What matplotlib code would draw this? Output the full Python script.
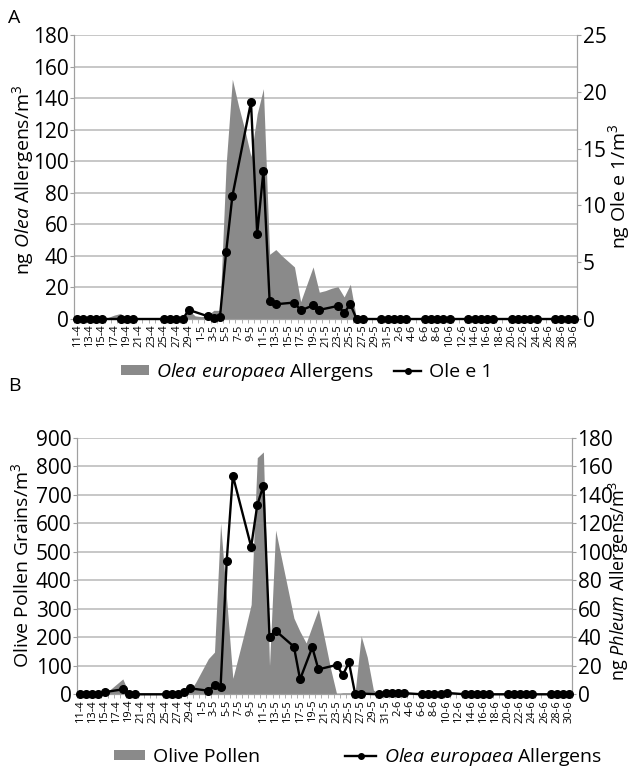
import numpy as np
import pandas as pd
import matplotlib
matplotlib.use('Agg')
import matplotlib.pyplot as plt
from matplotlib.lines import Line2D
from matplotlib.patches import Patch

plt.rcParams['font.family'] = ['Open Sans', 'DejaVu Sans']
plt.rcParams['mathtext.fontset'] = 'custom'
plt.rcParams['mathtext.rm'] = 'Open Sans'
plt.rcParams['mathtext.it'] = 'Open Sans:italic'

nan = np.nan

# days 11-4 .. 30-6
days = pd.date_range('2000-04-11', '2000-06-30')
day_labels = [f"{d.day}-{d.month}" for d in days]

# panel A: Olea europaea allergens (left axis, ng/m3)
olea_area_a = [0, 0, 0, 0, 0, 1, 2.5, 3.5, 0, 0,
               0, 0, 0, 0, 0, 0, 0, 0, 5.5, 2,
               1.5, 2, 5.5, 5.5, 98, 152, 135, 120, 103, 130,
               146, 41, 44, 40, 36.5, 33, 11, 22, 33, 17,
               18, 19.5, 20.5, 14, 22] + [0] * 36

# panel A: Ole e 1 (right axis, ng/m3)
ole_e1 = [0, 0, 0, 0, 0, nan, nan, 0, 0, 0,
          nan, nan, nan, nan, 0, 0, 0, 0, 0.8, nan,
          nan, 0.25, 0.1, 0.15, 5.9, 10.8, nan, nan, 19.1, 7.5,
          13.0, 1.6, 1.3, nan, nan, 1.45, 0.75, nan, 1.2, 0.8,
          nan, nan, 1.15, 0.55, 1.3, 0, 0, nan, nan, 0,
          0, 0, 0, 0, nan, nan, 0, 0, 0, 0,
          0, nan, nan, 0, 0, 0, 0, 0, nan, nan,
          0, 0, 0, 0, 0, nan, nan, 0, 0, 0,
          0]

# panel B: olive pollen grains (left axis, grains/m3)
pollen_b = [0, 0, 0, 0, 0, 18, 36, 54, 3, 3,
            3, 3, 3, 3, 3, 3, 3, 3, 10, 45,
            85, 125, 148, 600, 330, 56, 140, 225, 315, 830,
            850, 100, 576, 473, 370, 267, 220, 180, 240, 298,
            195, 90, 0, 5, 5, 5, 205, 130, 15] + [0] * 32

# panel B: Olea europaea allergens (right axis)
olea_line_b = [0, 0, 0, 0, 1.5, nan, nan, 3.5, 0, 0,
               nan, nan, nan, nan, 0, 0, 0, 1.6, 4.2, nan,
               nan, 2.5, 6.3, 5.4, 93.7, 153.4, nan, nan, 103.5, 132.8,
               146.3, 40.4, 44.6, nan, nan, 33.4, 10.5, nan, 33, 17.5,
               nan, nan, 20.6, 13.5, 22.4, 0.5, 0.5, nan, nan, 0,
               1, 1, 1, 0.8, nan, nan, 0, 0, 0, 0,
               1, nan, nan, 0, 0, 0, 0, 0, nan, nan,
               0, 0, 0, 0, 0, nan, nan, 0, 0, 0,
               0]

W, H = 631, 769
fig = plt.figure(figsize=(W / 100, H / 100), dpi=100)

AREA_C = '#8a8a8a'
GRID_C = '#b8b8b8'
AX_C = '#a0a0a0'


def panel(rect, area, line, ylim_l, step_l, ylim_r, step_r):
    x = np.arange(len(day_labels))
    ax = fig.add_axes(rect)
    ax.fill_between(x, 0, area, color=AREA_C, lw=0, zorder=2)
    ax.set_xlim(-0.5, len(x) - 0.5)
    ax.set_ylim(0, ylim_l)
    ax.set_yticks(np.arange(0, ylim_l + 1, step_l))
    ax.grid(axis='y', color=GRID_C, lw=1.1)
    ax.set_axisbelow(True)
    ax.set_xticks(x[::2])
    ax.set_xticklabels(day_labels[::2], rotation=90, fontsize=8)
    ax.set_xticks(np.arange(-0.5, len(x), 1), minor=True)
    ax.tick_params(axis='x', which='major', length=0, pad=4)
    ax.tick_params(axis='x', which='minor', length=3, color=AX_C)
    ax.tick_params(axis='y', length=3, pad=1, color=AX_C, labelsize=15)
    for s in ['left', 'right', 'bottom']:
        ax.spines[s].set_color(AX_C)
    ax.spines['top'].set_visible(False)

    ax2 = ax.twinx()
    y = np.array(line, dtype=float)
    m = ~np.isnan(y)
    ax2.plot(x[m], y[m], '-o', color='black', lw=1.7, ms=5.5, clip_on=False, zorder=3)
    ax2.set_ylim(0, ylim_r)
    ax2.set_yticks(np.arange(0, ylim_r + 1, step_r))
    ax2.tick_params(axis='y', length=3, pad=1, color=AX_C, labelsize=15)
    for s in ['left', 'right', 'bottom']:
        ax2.spines[s].set_color(AX_C)
    ax2.spines['top'].set_visible(False)
    return ax, ax2


axA, axA2 = panel([74 / W, 1 - 319 / H, 503 / W, 284 / H], olea_area_a, ole_e1, 180, 20, 25, 5)
axB, axB2 = panel([77 / W, 1 - 694.3 / H, 495 / W, 256.6 / H], pollen_b, olea_line_b, 900, 100, 180, 20)

# axis titles
fig.text(23 / W, 1 - 180 / H, 'ng $\\mathit{Olea}$ Allergens/m$^3$', rotation=90,
         ha='center', va='center', fontsize=14)
fig.text(619 / W, 1 - 186 / H, 'ng Ole e 1/m$^3$', rotation=90,
         ha='center', va='center', fontsize=14)
fig.text(21 / W, 1 - 565 / H, 'Olive Pollen Grains/m$^3$', rotation=90,
         ha='center', va='center', fontsize=14)
fig.text(619 / W, 1 - 581 / H, 'ng $\\mathit{Phleum}$ Allergens/m$^3$', rotation=90,
         ha='center', va='center', fontsize=13)

fig.text(14 / W, 1 - 18 / H, 'A', ha='center', va='center', fontsize=14)
fig.text(14 / W, 1 - 386 / H, 'B', ha='center', va='center', fontsize=14)

# legends
line_h = Line2D([], [], color='black', lw=1.7, marker='o', ms=4)
area_h = Patch(color=AREA_C, lw=0)
fig.legend([area_h, line_h], ['$\\mathit{Olea\\ europaea}$ Allergens', 'Ole e 1'],
           loc='center', bbox_to_anchor=(307 / W, 1 - 372 / H), ncol=2, frameon=False,
           fontsize=14, handlelength=1.4, handleheight=0.35, columnspacing=1.0,
           handletextpad=0.4)
fig.legend([area_h, line_h], ['Olive Pollen', '$\\mathit{Olea\\ europaea}$ Allergens'],
           loc='center', bbox_to_anchor=(358 / W, 1 - 757 / H), ncol=2, frameon=False,
           fontsize=14, handlelength=1.6, handleheight=0.35, columnspacing=4.4,
           handletextpad=0.4)

fig.savefig('out.png', dpi=100)
